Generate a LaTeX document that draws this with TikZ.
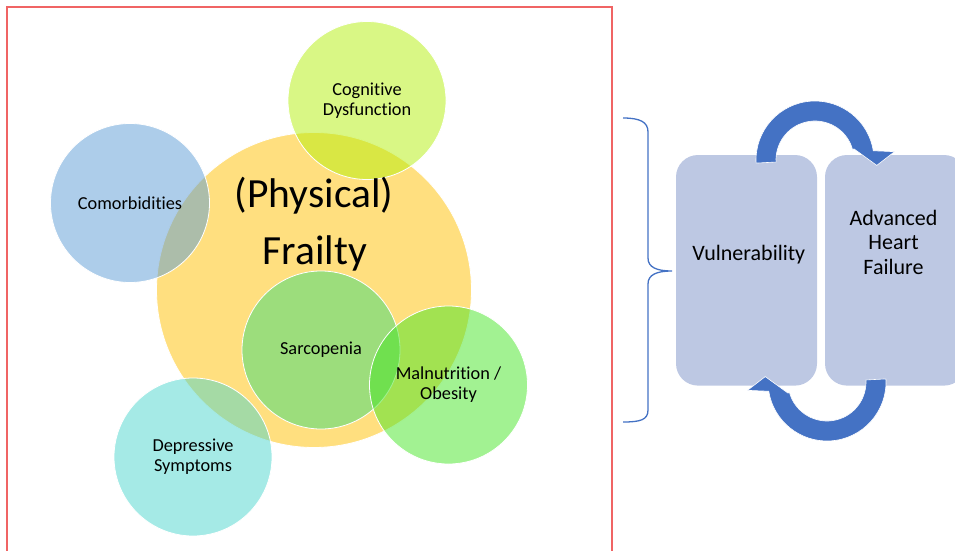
\documentclass[tikz,border=0pt]{standalone}
\usepackage{fontspec}
\setmainfont{Carlito}[Ligatures={NoCommon,NoContextual}]
\definecolor{frailc}{RGB}{255,192,0}
\definecolor{cogc}{RGB}{179,239,11}
\definecolor{comc}{RGB}{91,155,213}
\definecolor{sarc}{RGB}{57,219,122}
\definecolor{malc}{RGB}{69,229,37}
\definecolor{depc}{RGB}{75,213,205}
\definecolor{boxc}{RGB}{189,200,227}
\definecolor{arrc}{RGB}{68,114,196}
\definecolor{framec}{RGB}{240,100,100}
\begin{document}
\begin{tikzpicture}[x=1pt,y=1pt,
  venn/.style={circle, draw=white, line width=0.8pt, fill opacity=0.5, text opacity=1,
    inner sep=0pt, align=center, font=\fontsize{18.3}{20}\selectfont},
  bigtext/.style={font=\fontsize{41.5}{48}\selectfont, inner sep=0pt, anchor=base},
  hfbox/.style={rectangle, rounded corners=22pt, fill=boxc, minimum width=141pt, minimum height=230.6pt, inner sep=0pt},
  hftext/.style={font=\fontsize{22}{24.3}\selectfont, inner sep=0pt, align=center},
  cyclearrow/.style={fill=arrc, draw=white, line width=0.6pt},
  brace/.style={draw=arrc, line width=1.3pt},
  frame/.style={draw=framec, line width=1.2pt}]
\useasboundingbox (0,0) rectangle (955,550);
\clip (0,0) rectangle (955,550);
% frame
\draw[frame] (7,-10) -- (7,543) -- (612,543) -- (612,-10);
% Venn circles
\node[venn, fill=frailc, minimum size=315pt] (frailty) at (314,260) {};
\node[venn, fill=cogc, minimum size=158pt] (cog) at (367,449.5) {Cognitive\\Dysfunction};
\node[venn, fill=comc, minimum size=159pt] (com) at (130,347) {Comorbidities};
\node[venn, fill=sarc, minimum size=158pt] (sar) at (321,200) {Sarcopenia};
\node[venn, fill=malc, minimum size=158pt] (mal) at (448.5,165) {Malnutrition /\\Obesity};
\node[venn, fill=depc, minimum size=158pt] (dep) at (193,93) {Depressive\\Symptoms};
\node[bigtext] (phys) at (314,343) {(Physical)};
\node[bigtext] (frail) at (315,286) {Frailty};
% right side boxes
\node[hfbox] (vulbox) at (746.5,279.7) {};
\node[hfbox] (ahfbox) at (895.5,279.7) {};
\node[hftext, anchor=base] (vul) at (748.8,290) {Vulnerability};
\node[hftext] (ahf) at (893.5,307.6) {Advanced\\Heart\\Failure};
% cycle arrows
\begin{scope}[shift={(815,390)}]
\path[cyclearrow] (183:59) arc[start angle=183, end angle=9, radius=59] -- (6:80) -- (-5:62) -- (16:40.5) -- (14.5:39) arc[start angle=14.5, end angle=183, radius=39] -- cycle;
\end{scope}
\begin{scope}[shift={(827,168)}, rotate=180]
\path[cyclearrow] (183:59) arc[start angle=183, end angle=9, radius=59] -- (6:80) -- (-5:62) -- (16:40.5) -- (14.5:39) arc[start angle=14.5, end angle=183, radius=39] -- cycle;
\end{scope}
% brace
\coordinate (bt) at (623,432);
\coordinate (bm) at (672,279);
\coordinate (bb) at (623,128);
\draw[brace] (bt) .. controls (640,432) and (648,428) .. (648,418) -- (648,292) .. controls (648,283) and (656,279) .. (bm) .. controls (656,279) and (648,275) .. (648,266) -- (648,140) .. controls (648,130) and (640,128) .. (bb);
\end{tikzpicture}
\end{document}
